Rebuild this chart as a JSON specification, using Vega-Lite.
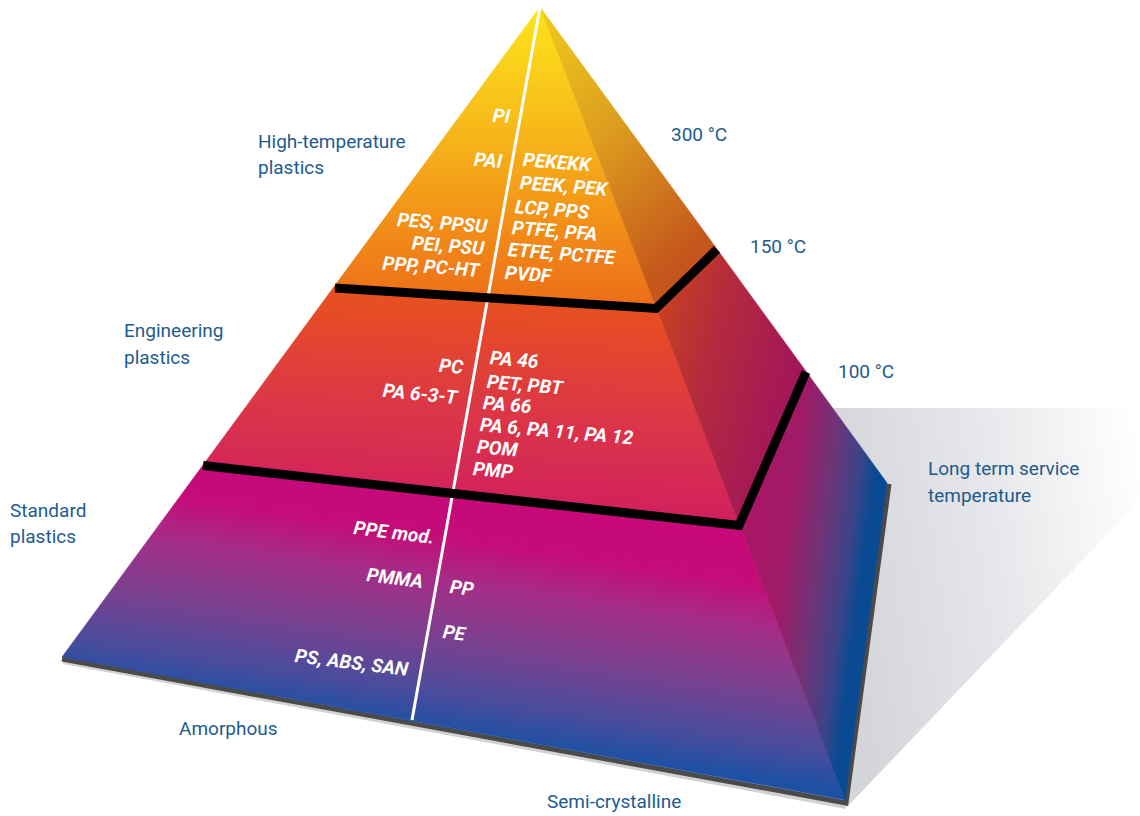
{
  "$schema": "https://vega.github.io/schema/vega-lite/v6.json",
  "width": 1140,
  "height": 816,
  "autosize": {"type": "fit", "contains": "padding"},
  "padding": 0,
  "background": "white",
  "config": {"view": {"stroke": null}},
  "datasets": {
    "shapes": [
      {"shape": "shadow", "order": 1, "x": 832, "y": 408},
      {"shape": "shadow", "order": 2, "x": 1140, "y": 408},
      {"shape": "shadow", "order": 3, "x": 1140, "y": 500},
      {"shape": "shadow", "order": 4, "x": 847, "y": 807},
      {"shape": "shadow", "order": 5, "x": 887, "y": 483},
      {"shape": "shadow", "order": 6, "x": 832, "y": 408},
      {"shape": "topFront", "order": 1, "x": 540, "y": 7},
      {"shape": "topFront", "order": 2, "x": 655, "y": 304},
      {"shape": "topFront", "order": 3, "x": 336, "y": 284},
      {"shape": "topFront", "order": 4, "x": 540, "y": 7},
      {"shape": "topRight", "order": 1, "x": 540, "y": 7},
      {"shape": "topRight", "order": 2, "x": 714, "y": 245},
      {"shape": "topRight", "order": 3, "x": 655, "y": 304},
      {"shape": "topRight", "order": 4, "x": 540, "y": 7},
      {"shape": "midFront", "order": 1, "x": 336, "y": 284},
      {"shape": "midFront", "order": 2, "x": 655, "y": 304},
      {"shape": "midFront", "order": 3, "x": 738, "y": 521},
      {"shape": "midFront", "order": 4, "x": 206, "y": 461},
      {"shape": "midFront", "order": 5, "x": 336, "y": 284},
      {"shape": "midRight", "order": 1, "x": 655, "y": 304},
      {"shape": "midRight", "order": 2, "x": 714, "y": 245},
      {"shape": "midRight", "order": 3, "x": 805, "y": 370},
      {"shape": "midRight", "order": 4, "x": 738, "y": 521},
      {"shape": "midRight", "order": 5, "x": 655, "y": 304},
      {"shape": "botFront", "order": 1, "x": 206, "y": 461},
      {"shape": "botFront", "order": 2, "x": 738, "y": 521},
      {"shape": "botFront", "order": 3, "x": 845, "y": 800},
      {"shape": "botFront", "order": 4, "x": 62, "y": 657},
      {"shape": "botFront", "order": 5, "x": 206, "y": 461},
      {"shape": "botRight", "order": 1, "x": 738, "y": 521},
      {"shape": "botRight", "order": 2, "x": 805, "y": 370},
      {"shape": "botRight", "order": 3, "x": 887, "y": 483},
      {"shape": "botRight", "order": 4, "x": 845, "y": 800},
      {"shape": "botRight", "order": 5, "x": 738, "y": 521}
    ],
    "lines": [
      {"line": "baseLight", "order": 1, "x": 63, "y": 662},
      {"line": "baseLight", "order": 2, "x": 846, "y": 807},
      {"line": "baseDark", "order": 1, "x": 62, "y": 659},
      {"line": "baseDark", "order": 2, "x": 846, "y": 803},
      {"line": "baseDark", "order": 3, "x": 889, "y": 484},
      {"line": "divider", "order": 1, "x": 540, "y": 7},
      {"line": "divider", "order": 2, "x": 412, "y": 720},
      {"line": "band1", "order": 1, "x": 335, "y": 288},
      {"line": "band1", "order": 2, "x": 656, "y": 308.5},
      {"line": "band1", "order": 3, "x": 717, "y": 249.5},
      {"line": "band2", "order": 1, "x": 203, "y": 465.5},
      {"line": "band2", "order": 2, "x": 739, "y": 525.5},
      {"line": "band2", "order": 3, "x": 806, "y": 372}
    ],
    "labels": [
      {"text": "PI", "x": 510, "y": 117, "side": "amorphous", "tier": "high"},
      {"text": "PAI", "x": 502, "y": 162, "side": "amorphous", "tier": "high"},
      {"text": "PES, PPSU", "x": 487, "y": 227, "side": "amorphous", "tier": "high"},
      {"text": "PEI, PSU", "x": 484, "y": 249, "side": "amorphous", "tier": "high"},
      {"text": "PPP, PC-HT", "x": 479, "y": 271, "side": "amorphous", "tier": "high"},
      {"text": "PC", "x": 463, "y": 368, "side": "amorphous", "tier": "engineering"},
      {"text": "PA 6-3-T", "x": 457, "y": 398, "side": "amorphous", "tier": "engineering"},
      {"text": "PPE mod.", "x": 434, "y": 538, "side": "amorphous", "tier": "standard"},
      {"text": "PMMA", "x": 423, "y": 582, "side": "amorphous", "tier": "standard"},
      {"text": "PS, ABS, SAN", "x": 408, "y": 670, "side": "amorphous", "tier": "standard"},
      {"text": "PEKEKK", "x": 523, "y": 160, "side": "semi", "tier": "high"},
      {"text": "PEEK, PEK", "x": 520, "y": 183, "side": "semi", "tier": "high"},
      {"text": "LCP, PPS", "x": 515, "y": 207, "side": "semi", "tier": "high"},
      {"text": "PTFE, PFA", "x": 512, "y": 228, "side": "semi", "tier": "high"},
      {"text": "ETFE, PCTFE", "x": 508, "y": 250, "side": "semi", "tier": "high"},
      {"text": "PVDF", "x": 505, "y": 273, "side": "semi", "tier": "high"},
      {"text": "PA 46", "x": 490, "y": 358, "side": "semi", "tier": "engineering"},
      {"text": "PET, PBT", "x": 487, "y": 382, "side": "semi", "tier": "engineering"},
      {"text": "PA 66", "x": 483, "y": 403, "side": "semi", "tier": "engineering"},
      {"text": "PA 6, PA 11, PA 12", "x": 480, "y": 425, "side": "semi", "tier": "engineering"},
      {"text": "POM", "x": 477, "y": 447, "side": "semi", "tier": "engineering"},
      {"text": "PMP", "x": 473, "y": 469, "side": "semi", "tier": "engineering"},
      {"text": "PP", "x": 450, "y": 587, "side": "semi", "tier": "standard"},
      {"text": "PE", "x": 443, "y": 632, "side": "semi", "tier": "standard"}
    ],
    "annotations": [
      {"text": "High-temperature", "x": 258, "y": 148},
      {"text": "plastics", "x": 258, "y": 174},
      {"text": "Engineering", "x": 124, "y": 337},
      {"text": "plastics", "x": 124, "y": 364},
      {"text": "Standard", "x": 10, "y": 517},
      {"text": "plastics", "x": 10, "y": 543},
      {"text": "300 °C", "x": 671, "y": 141},
      {"text": "150 °C", "x": 750, "y": 253},
      {"text": "100 °C", "x": 838, "y": 378},
      {"text": "Long term service", "x": 928, "y": 475},
      {"text": "temperature", "x": 928, "y": 502},
      {"text": "Amorphous", "x": 179, "y": 735},
      {"text": "Semi-crystalline", "x": 547, "y": 808}
    ]
  },
  "encoding": {
    "x": {"field": "x", "type": "quantitative", "scale": {"domain": [0, 1140], "nice": false, "zero": false}, "axis": null},
    "y": {"field": "y", "type": "quantitative", "scale": {"domain": [0, 816], "nice": false, "zero": false, "reverse": true}, "axis": null}
  },
  "layer": [
    {
      "data": {"name": "shapes"},
      "transform": [{"filter": "datum.shape === 'shadow'"}],
      "mark": {"type": "line", "strokeWidth": 0, "strokeOpacity": 0,
        "fill": {"gradient": "linear", "x1": 0, "y1": 0.3, "x2": 1, "y2": 0.1,
          "stops": [{"offset": 0, "color": "#d3d5d9"}, {"offset": 0.5, "color": "#e6e7ea"}, {"offset": 1, "color": "#ffffff"}]}},
      "encoding": {"order": {"field": "order"}}
    },
    {
      "data": {"name": "lines"},
      "transform": [{"filter": "datum.line === 'baseLight'"}],
      "mark": {"type": "line", "stroke": "#d2d2d2", "strokeWidth": 4, "strokeCap": "butt"},
      "encoding": {"order": {"field": "order"}}
    },
    {
      "data": {"name": "lines"},
      "transform": [{"filter": "datum.line === 'baseDark'"}],
      "mark": {"type": "line", "stroke": "#4a4a4a", "strokeWidth": 5, "strokeCap": "butt", "strokeJoin": "miter"},
      "encoding": {"order": {"field": "order"}}
    },
    {
      "data": {"name": "shapes"},
      "transform": [{"filter": "datum.shape === 'topFront'"}],
      "mark": {"type": "line", "strokeWidth": 0.6,
        "fill": {"gradient": "linear", "x1": 0, "y1": 0, "x2": 0, "y2": 1,
          "stops": [{"offset": 0, "color": "#fde41a"}, {"offset": 0.35, "color": "#f8c01a"}, {"offset": 0.7, "color": "#f29318"}, {"offset": 1, "color": "#ed6d18"}]},
        "stroke": {"gradient": "linear", "x1": 0, "y1": 0, "x2": 0, "y2": 1,
          "stops": [{"offset": 0, "color": "#fde41a"}, {"offset": 0.35, "color": "#f8c01a"}, {"offset": 0.7, "color": "#f29318"}, {"offset": 1, "color": "#ed6d18"}]}},
      "encoding": {"order": {"field": "order"}}
    },
    {
      "data": {"name": "shapes"},
      "transform": [{"filter": "datum.shape === 'topRight'"}],
      "mark": {"type": "line", "strokeWidth": 0.6,
        "fill": {"gradient": "linear", "x1": 0, "y1": 0, "x2": 0.5, "y2": 1,
          "stops": [{"offset": 0, "color": "#f0cc1e"}, {"offset": 0.5, "color": "#dc9c1e"}, {"offset": 1, "color": "#c4561c"}]},
        "stroke": {"gradient": "linear", "x1": 0, "y1": 0, "x2": 0.5, "y2": 1,
          "stops": [{"offset": 0, "color": "#f0cc1e"}, {"offset": 0.5, "color": "#dc9c1e"}, {"offset": 1, "color": "#c4561c"}]}},
      "encoding": {"order": {"field": "order"}}
    },
    {
      "data": {"name": "shapes"},
      "transform": [{"filter": "datum.shape === 'midFront'"}],
      "mark": {"type": "line", "strokeWidth": 0.6,
        "fill": {"gradient": "linear", "x1": 0.3, "y1": 0, "x2": 0.2, "y2": 1,
          "stops": [{"offset": 0, "color": "#e9521c"}, {"offset": 0.5, "color": "#dc3746"}, {"offset": 1, "color": "#cf1c62"}]},
        "stroke": {"gradient": "linear", "x1": 0.3, "y1": 0, "x2": 0.2, "y2": 1,
          "stops": [{"offset": 0, "color": "#e9521c"}, {"offset": 0.5, "color": "#dc3746"}, {"offset": 1, "color": "#cf1c62"}]}},
      "encoding": {"order": {"field": "order"}}
    },
    {
      "data": {"name": "shapes"},
      "transform": [{"filter": "datum.shape === 'midRight'"}],
      "mark": {"type": "line", "strokeWidth": 0.6,
        "fill": {"gradient": "linear", "x1": 0, "y1": 0, "x2": 1, "y2": 0.5,
          "stops": [{"offset": 0, "color": "#cc481a"}, {"offset": 0.45, "color": "#b42a3c"}, {"offset": 1, "color": "#a0145e"}]},
        "stroke": {"gradient": "linear", "x1": 0, "y1": 0, "x2": 1, "y2": 0.5,
          "stops": [{"offset": 0, "color": "#cc481a"}, {"offset": 0.45, "color": "#b42a3c"}, {"offset": 1, "color": "#a0145e"}]}},
      "encoding": {"order": {"field": "order"}}
    },
    {
      "data": {"name": "shapes"},
      "transform": [{"filter": "datum.shape === 'botFront'"}],
      "mark": {"type": "line", "strokeWidth": 0.6,
        "fill": {"gradient": "linear", "x1": 0.304, "y1": 0, "x2": 0.077, "y2": 0.657,
          "stops": [{"offset": 0, "color": "#c8087a"}, {"offset": 0.22, "color": "#c40c78"}, {"offset": 0.4, "color": "#a42e88"}, {"offset": 0.62, "color": "#7c408e"}, {"offset": 0.85, "color": "#4a4c9c"}, {"offset": 1, "color": "#1e50a4"}]},
        "stroke": {"gradient": "linear", "x1": 0.304, "y1": 0, "x2": 0.077, "y2": 0.657,
          "stops": [{"offset": 0, "color": "#c8087a"}, {"offset": 0.22, "color": "#c40c78"}, {"offset": 0.4, "color": "#a42e88"}, {"offset": 0.62, "color": "#7c408e"}, {"offset": 0.85, "color": "#4a4c9c"}, {"offset": 1, "color": "#1e50a4"}]}},
      "encoding": {"order": {"field": "order"}}
    },
    {
      "data": {"name": "shapes"},
      "transform": [{"filter": "datum.shape === 'botRight'"}],
      "mark": {"type": "line", "strokeWidth": 0.6,
        "fill": {"gradient": "linear", "x1": 0.133, "y1": 0, "x2": 0.978, "y2": 0.321,
          "stops": [{"offset": 0, "color": "#ac1566"}, {"offset": 0.35, "color": "#a01a66"}, {"offset": 0.6, "color": "#6e3478"}, {"offset": 0.8, "color": "#3a4488"}, {"offset": 0.9, "color": "#0c4a92"}, {"offset": 1, "color": "#084a94"}]},
        "stroke": {"gradient": "linear", "x1": 0.133, "y1": 0, "x2": 0.978, "y2": 0.321,
          "stops": [{"offset": 0, "color": "#ac1566"}, {"offset": 0.35, "color": "#a01a66"}, {"offset": 0.6, "color": "#6e3478"}, {"offset": 0.8, "color": "#3a4488"}, {"offset": 0.9, "color": "#0c4a92"}, {"offset": 1, "color": "#084a94"}]}},
      "encoding": {"order": {"field": "order"}}
    },
    {
      "data": {"name": "lines"},
      "transform": [{"filter": "datum.line === 'divider'"}],
      "mark": {"type": "line", "stroke": "#ffffff", "strokeWidth": 3, "strokeCap": "butt"},
      "encoding": {"order": {"field": "order"}}
    },
    {
      "data": {"name": "lines"},
      "transform": [{"filter": "datum.line === 'band1' || datum.line === 'band2'"}],
      "mark": {"type": "line", "stroke": "#000000", "strokeWidth": 9, "strokeCap": "butt", "strokeJoin": "miter"},
      "encoding": {"order": {"field": "order"}, "detail": {"field": "line"}}
    },
    {
      "data": {"name": "labels"},
      "transform": [{"filter": "datum.side === 'amorphous' && datum.tier === 'high'"}],
      "mark": {"type": "text", "align": "right", "baseline": "middle", "angle": 4.5, "font": "Roboto", "fontSize": 19, "fontWeight": "bold", "fontStyle": "italic", "color": "#ffffff"},
      "encoding": {"text": {"field": "text"}}
    },
    {
      "data": {"name": "labels"},
      "transform": [{"filter": "datum.side === 'amorphous' && datum.tier === 'engineering'"}],
      "mark": {"type": "text", "align": "right", "baseline": "middle", "angle": 5.5, "font": "Roboto", "fontSize": 19, "fontWeight": "bold", "fontStyle": "italic", "color": "#ffffff"},
      "encoding": {"text": {"field": "text"}}
    },
    {
      "data": {"name": "labels"},
      "transform": [{"filter": "datum.side === 'amorphous' && datum.tier === 'standard'"}],
      "mark": {"type": "text", "align": "right", "baseline": "middle", "angle": 7, "font": "Roboto", "fontSize": 19, "fontWeight": "bold", "fontStyle": "italic", "color": "#ffffff"},
      "encoding": {"text": {"field": "text"}}
    },
    {
      "data": {"name": "labels"},
      "transform": [{"filter": "datum.side === 'semi' && datum.tier === 'high'"}],
      "mark": {"type": "text", "align": "left", "baseline": "middle", "angle": 4.5, "font": "Roboto", "fontSize": 19, "fontWeight": "bold", "fontStyle": "italic", "color": "#ffffff"},
      "encoding": {"text": {"field": "text"}}
    },
    {
      "data": {"name": "labels"},
      "transform": [{"filter": "datum.side === 'semi' && datum.tier === 'engineering'"}],
      "mark": {"type": "text", "align": "left", "baseline": "middle", "angle": 5, "font": "Roboto", "fontSize": 19, "fontWeight": "bold", "fontStyle": "italic", "color": "#ffffff"},
      "encoding": {"text": {"field": "text"}}
    },
    {
      "data": {"name": "labels"},
      "transform": [{"filter": "datum.side === 'semi' && datum.tier === 'standard'"}],
      "mark": {"type": "text", "align": "left", "baseline": "middle", "angle": 7, "font": "Roboto", "fontSize": 19, "fontWeight": "bold", "fontStyle": "italic", "color": "#ffffff"},
      "encoding": {"text": {"field": "text"}}
    },
    {
      "data": {"name": "annotations"},
      "mark": {"type": "text", "align": "left", "baseline": "alphabetic", "font": "Roboto", "fontSize": 19, "color": "#1d5b8f"},
      "encoding": {"text": {"field": "text"}}
    }
  ]
}
